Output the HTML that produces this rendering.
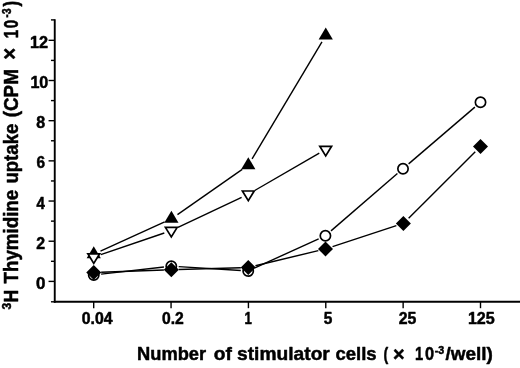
<!DOCTYPE html>
<html><head><meta charset="utf-8"><title>Figure</title>
<style>html,body{margin:0;padding:0;background:#fff;overflow:hidden}svg{display:block}</style></head>
<body>
<svg width="520" height="368" viewBox="0 0 520 368">
<rect width="520" height="368" fill="#fff"/>
<defs><filter id="soft" x="0" y="0" width="100%" height="100%" filterUnits="userSpaceOnUse"><feGaussianBlur stdDeviation="0.4"/></filter></defs>
<g filter="url(#soft)">
<g stroke="#000" stroke-width="1.9" fill="none">
<line x1="54.75" y1="19.2" x2="54.75" y2="302.75"/>
<line x1="53.85" y1="301.8" x2="520" y2="301.8"/>
</g>
<g stroke="#000" stroke-width="1.4" fill="none">
<line x1="50.95" y1="301.80" x2="54.75" y2="301.80"/>
<line x1="48.55" y1="281.40" x2="54.75" y2="281.40"/>
<line x1="50.95" y1="261.31" x2="54.75" y2="261.31"/>
<line x1="48.55" y1="241.22" x2="54.75" y2="241.22"/>
<line x1="50.95" y1="221.13" x2="54.75" y2="221.13"/>
<line x1="48.55" y1="201.04" x2="54.75" y2="201.04"/>
<line x1="50.95" y1="180.95" x2="54.75" y2="180.95"/>
<line x1="48.55" y1="160.86" x2="54.75" y2="160.86"/>
<line x1="50.95" y1="140.77" x2="54.75" y2="140.77"/>
<line x1="48.55" y1="120.68" x2="54.75" y2="120.68"/>
<line x1="50.95" y1="100.59" x2="54.75" y2="100.59"/>
<line x1="48.55" y1="80.50" x2="54.75" y2="80.50"/>
<line x1="50.95" y1="60.41" x2="54.75" y2="60.41"/>
<line x1="48.55" y1="40.32" x2="54.75" y2="40.32"/>
<line x1="50.95" y1="19.90" x2="54.75" y2="19.90"/>
<line x1="93.70" y1="301.8" x2="93.70" y2="308.2"/>
<line x1="171.06" y1="301.8" x2="171.06" y2="308.2"/>
<line x1="248.42" y1="301.8" x2="248.42" y2="308.2"/>
<line x1="325.78" y1="301.8" x2="325.78" y2="308.2"/>
<line x1="403.14" y1="301.8" x2="403.14" y2="308.2"/>
<line x1="480.50" y1="301.8" x2="480.50" y2="308.2"/>
</g>
<g font-family="'Liberation Sans', Arial, Helvetica, sans-serif" font-weight="bold" fill="#000" stroke="#000" stroke-width="0.5" stroke-linejoin="round">
<text transform="translate(29.98,47.82) scale(0.9996,1)" font-size="16.3px">12</text>
<text transform="translate(30.39,88.00) scale(0.9908,1)" font-size="16.3px">10</text>
<text transform="translate(36.30,128.18) scale(0.9816,1)" font-size="16.3px">8</text>
<text transform="translate(36.42,168.36) scale(0.9448,1)" font-size="16.3px">6</text>
<text transform="translate(36.40,208.54) scale(0.9216,1)" font-size="16.3px">4</text>
<text transform="translate(36.15,248.72) scale(0.9755,1)" font-size="16.3px">2</text>
<text transform="translate(36.12,288.90) scale(1.0386,1)" font-size="16.3px">0</text>
<text transform="translate(81.81,323.60) scale(0.9707,1)" font-size="16.3px">0.04</text>
<text transform="translate(161.91,323.60) scale(0.9635,1)" font-size="16.3px">0.2</text>
<text transform="translate(244.57,323.60) scale(0.8115,1)" font-size="16.3px">1</text>
<text transform="translate(323.66,323.60) scale(0.9459,1)" font-size="16.3px">5</text>
<text transform="translate(398.66,323.60) scale(0.9701,1)" font-size="16.3px">25</text>
<text transform="translate(467.89,323.60) scale(0.9875,1)" font-size="16.3px">125</text>
<text transform="translate(137.01,360.20) scale(0.9633,1)" font-size="19.0px">Number</text>
<text transform="translate(213.80,360.20) scale(1.0089,1)" font-size="19.0px">of</text>
<text transform="translate(237.05,360.20) scale(1.0106,1)" font-size="19.0px">stimulator</text>
<text transform="translate(335.42,360.20) scale(0.9745,1)" font-size="19.0px">cells</text>
<text transform="translate(383.49,360.20) scale(0.7446,1)" font-size="19.0px">(</text>
<text transform="translate(414.98,360.20) scale(0.7747,1)" font-size="19.0px">1</text>
<text transform="translate(424.89,360.20) scale(0.8638,1)" font-size="19.0px">0</text>
<text transform="translate(445.40,360.20) scale(0.9974,1)" font-size="19.0px">/well)</text>
<text transform="translate(434.82,353.60) scale(0.9658,1)" font-size="11.0px">-3</text>
<text transform="translate(393.08,360.60) scale(0.9744,1)" font-size="20.5px">×</text>
<text transform="translate(18.40,302.61) rotate(-90) scale(0.8842,1)" font-size="20px">H</text>
<text transform="translate(18.40,283.50) rotate(-90) scale(0.9381,1)" font-size="20px">Thymidine</text>
<text transform="translate(18.40,183.57) rotate(-90) scale(0.9290,1)" font-size="20px">uptake</text>
<text transform="translate(18.40,117.23) rotate(-90) scale(0.9403,1)" font-size="20px">(CPM</text>
<text transform="translate(18.40,38.16) rotate(-90) scale(0.7680,1)" font-size="20px">1</text>
<text transform="translate(18.40,28.17) rotate(-90) scale(0.7535,1)" font-size="20px">0</text>
<text transform="translate(18.40,6.50) rotate(-90) scale(0.8589,1)" font-size="20px">)</text>
<text transform="translate(17.10,59.64) rotate(-90) scale(0.9471,1)" font-size="21.5px">×</text>
<text transform="translate(10.90,309.54) rotate(-90) scale(0.9543,1)" font-size="12.6px">3</text>
<text transform="translate(10.90,17.68) rotate(-90) scale(0.8432,1)" font-size="12.6px">-3</text>
</g>
<g stroke="#000" stroke-width="1.4" fill="none" stroke-linecap="butt">
<line x1="100.48" y1="251.22" x2="164.67" y2="221.88"/>
<line x1="177.47" y1="214.57" x2="242.23" y2="169.43"/>
<line x1="252.09" y1="158.85" x2="321.96" y2="41.85"/>
<line x1="100.76" y1="254.62" x2="164.29" y2="232.98"/>
<line x1="177.99" y1="227.44" x2="241.61" y2="197.36"/>
<line x1="254.71" y1="190.50" x2="319.29" y2="153.20"/>
<line x1="101.10" y1="274.17" x2="163.95" y2="267.03"/>
<line x1="178.69" y1="266.66" x2="240.81" y2="270.54"/>
<line x1="254.93" y1="267.92" x2="318.67" y2="238.78"/>
<line x1="331.00" y1="230.86" x2="397.40" y2="173.54"/>
<line x1="408.62" y1="163.89" x2="474.88" y2="107.11"/>
<line x1="101.15" y1="272.23" x2="163.90" y2="269.97"/>
<line x1="178.70" y1="269.49" x2="240.85" y2="267.71"/>
<line x1="255.44" y1="265.77" x2="318.31" y2="250.63"/>
<line x1="332.53" y1="246.60" x2="396.37" y2="225.70"/>
<line x1="408.64" y1="218.18" x2="475.26" y2="151.82"/>
</g>
<circle cx="93.75" cy="275.00" r="5.15" fill="#fff" stroke="#000" stroke-width="1.7"/>
<circle cx="171.30" cy="266.20" r="5.15" fill="#fff" stroke="#000" stroke-width="1.7"/>
<circle cx="248.20" cy="271.00" r="5.15" fill="#fff" stroke="#000" stroke-width="1.7"/>
<circle cx="325.40" cy="235.70" r="5.15" fill="#fff" stroke="#000" stroke-width="1.7"/>
<circle cx="403.00" cy="168.70" r="5.15" fill="#fff" stroke="#000" stroke-width="1.7"/>
<circle cx="480.50" cy="102.30" r="5.15" fill="#fff" stroke="#000" stroke-width="1.7"/>
<polygon points="93.75,265.00 101.25,272.50 93.75,280.00 86.25,272.50" fill="#000"/>
<polygon points="171.30,262.20 178.80,269.70 171.30,277.20 163.80,269.70" fill="#000"/>
<polygon points="248.25,260.00 255.75,267.50 248.25,275.00 240.75,267.50" fill="#000"/>
<polygon points="325.50,241.40 333.00,248.90 325.50,256.40 318.00,248.90" fill="#000"/>
<polygon points="403.40,215.90 410.90,223.40 403.40,230.90 395.90,223.40" fill="#000"/>
<polygon points="480.50,139.10 488.00,146.60 480.50,154.10 473.00,146.60" fill="#000"/>
<polygon points="93.75,246.30 100.85,258.30 86.65,258.30" fill="#000"/>
<polygon points="171.40,210.80 178.50,222.80 164.30,222.80" fill="#000"/>
<polygon points="248.30,157.20 255.40,169.20 241.20,169.20" fill="#000"/>
<polygon points="325.75,27.50 332.85,39.50 318.65,39.50" fill="#000"/>
<polygon points="87.85,253.80 99.65,253.80 93.75,263.40" fill="#fff" stroke="#000" stroke-width="1.7" stroke-linejoin="miter"/>
<polygon points="165.40,227.40 177.20,227.40 171.30,237.00" fill="#fff" stroke="#000" stroke-width="1.7" stroke-linejoin="miter"/>
<polygon points="242.40,191.00 254.20,191.00 248.30,200.60" fill="#fff" stroke="#000" stroke-width="1.7" stroke-linejoin="miter"/>
<polygon points="319.80,146.30 331.60,146.30 325.70,155.90" fill="#fff" stroke="#000" stroke-width="1.7" stroke-linejoin="miter"/>
</g>
</svg>
</body></html>
